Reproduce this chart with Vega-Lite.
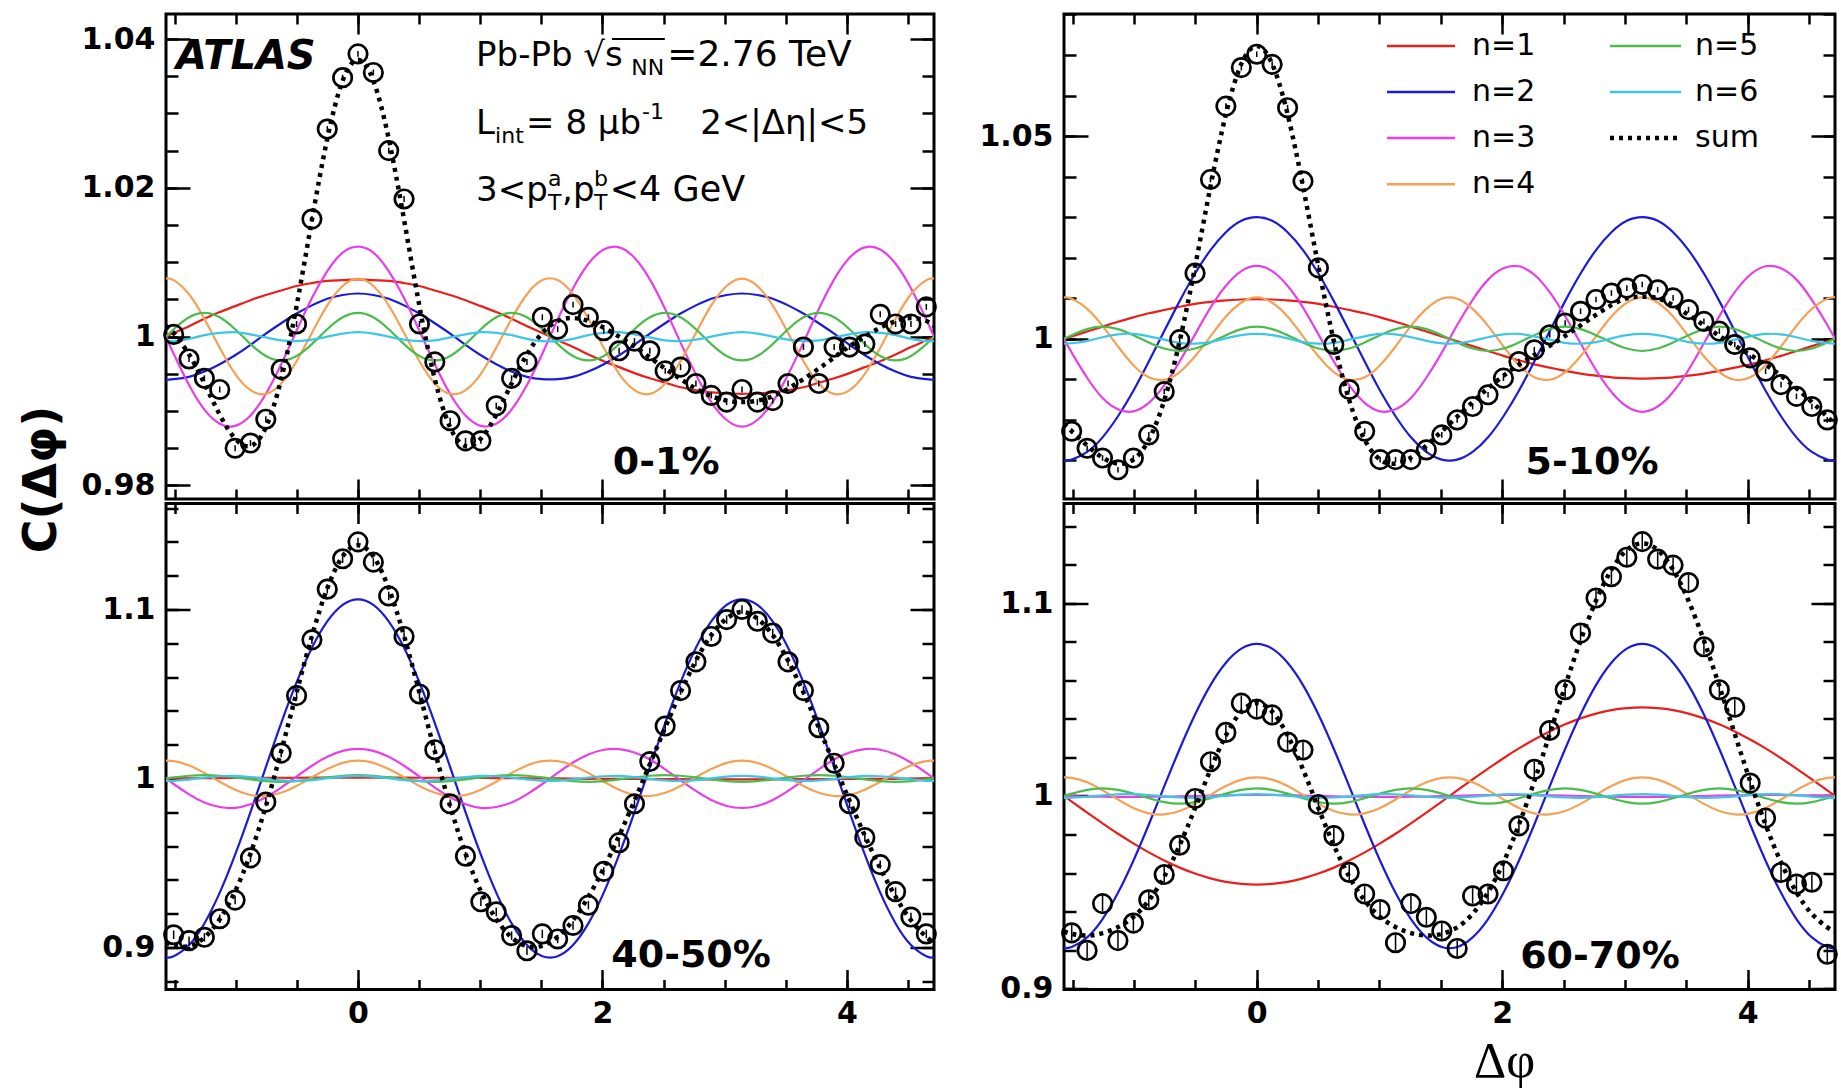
{
"$schema":"https://vega.github.io/schema/vega-lite/v6.json",
"padding":{"left":16,"top":11,"right":4,"bottom":2},
"background":"white",
"columns":2,
"spacing":{"row":4.5,"column":130},
"bounds":"flush",
"datasets":{
"curves":[
{"p":"A","x":-1.5708,"n1":1,"n2":0.9942,"n3":1,"n4":1.0078,"n5":1,"n6":0.9994,"s":1.0014},
{"p":"A","x":-1.508,"n1":1.0005,"n2":0.9943,"n3":0.9977,"n4":1.0076,"n5":1.001,"n6":0.9994,"s":1.0005},
{"p":"A","x":-1.3823,"n1":1.0014,"n2":0.9946,"n3":0.9935,"n4":1.0057,"n5":1.0026,"n6":0.9997,"s":0.9976},
{"p":"A","x":-1.2566,"n1":1.0024,"n2":0.9953,"n3":0.9902,"n4":1.0024,"n5":1.0032,"n6":1.0002,"s":0.9937},
{"p":"A","x":-1.131,"n1":1.0033,"n2":0.9963,"n3":0.9883,"n4":0.9985,"n5":1.0026,"n6":1.0005,"s":0.9895},
{"p":"A","x":-1.0053,"n1":1.0041,"n2":0.9975,"n3":0.988,"n4":0.995,"n5":1.001,"n6":1.0006,"s":0.9863},
{"p":"A","x":-0.8796,"n1":1.0049,"n2":0.9989,"n3":0.9894,"n4":0.9928,"n5":0.999,"n6":1.0003,"s":0.9853},
{"p":"A","x":-0.754,"n1":1.0056,"n2":1.0004,"n3":0.9923,"n4":0.9923,"n5":0.9974,"n6":0.9999,"s":0.9878},
{"p":"A","x":-0.6283,"n1":1.0062,"n2":1.0018,"n3":0.9963,"n4":0.9937,"n5":0.9968,"n6":0.9995,"s":0.9943},
{"p":"A","x":-0.5027,"n1":1.0068,"n2":1.0031,"n3":1.0008,"n4":0.9967,"n5":0.9974,"n6":0.9994,"s":1.0041},
{"p":"A","x":-0.377,"n1":1.0072,"n2":1.0042,"n3":1.0052,"n4":1.0005,"n5":0.999,"n6":0.9996,"s":1.0157},
{"p":"A","x":-0.2513,"n1":1.0075,"n2":1.0051,"n3":1.0088,"n4":1.0042,"n5":1.001,"n6":1,"s":1.0266},
{"p":"A","x":-0.1257,"n1":1.0076,"n2":1.0056,"n3":1.0113,"n4":1.0068,"n5":1.0026,"n6":1.0004,"s":1.0344},
{"p":"A","x":0,"n1":1.0077,"n2":1.0058,"n3":1.0121,"n4":1.0078,"n5":1.0032,"n6":1.0006,"s":1.0372},
{"p":"A","x":0.1257,"n1":1.0076,"n2":1.0056,"n3":1.0113,"n4":1.0068,"n5":1.0026,"n6":1.0004,"s":1.0344},
{"p":"A","x":0.2513,"n1":1.0075,"n2":1.0051,"n3":1.0088,"n4":1.0042,"n5":1.001,"n6":1,"s":1.0266},
{"p":"A","x":0.377,"n1":1.0072,"n2":1.0042,"n3":1.0052,"n4":1.0005,"n5":0.999,"n6":0.9996,"s":1.0157},
{"p":"A","x":0.5027,"n1":1.0068,"n2":1.0031,"n3":1.0008,"n4":0.9967,"n5":0.9974,"n6":0.9994,"s":1.0041},
{"p":"A","x":0.6283,"n1":1.0062,"n2":1.0018,"n3":0.9963,"n4":0.9937,"n5":0.9968,"n6":0.9995,"s":0.9943},
{"p":"A","x":0.754,"n1":1.0056,"n2":1.0004,"n3":0.9923,"n4":0.9923,"n5":0.9974,"n6":0.9999,"s":0.9878},
{"p":"A","x":0.8796,"n1":1.0049,"n2":0.9989,"n3":0.9894,"n4":0.9928,"n5":0.999,"n6":1.0003,"s":0.9853},
{"p":"A","x":1.0053,"n1":1.0041,"n2":0.9975,"n3":0.988,"n4":0.995,"n5":1.001,"n6":1.0006,"s":0.9863},
{"p":"A","x":1.131,"n1":1.0033,"n2":0.9963,"n3":0.9883,"n4":0.9985,"n5":1.0026,"n6":1.0005,"s":0.9895},
{"p":"A","x":1.2566,"n1":1.0024,"n2":0.9953,"n3":0.9902,"n4":1.0024,"n5":1.0032,"n6":1.0002,"s":0.9937},
{"p":"A","x":1.3823,"n1":1.0014,"n2":0.9946,"n3":0.9935,"n4":1.0057,"n5":1.0026,"n6":0.9997,"s":0.9976},
{"p":"A","x":1.508,"n1":1.0005,"n2":0.9943,"n3":0.9977,"n4":1.0076,"n5":1.001,"n6":0.9994,"s":1.0005},
{"p":"A","x":1.6336,"n1":0.9995,"n2":0.9943,"n3":1.0023,"n4":1.0076,"n5":0.999,"n6":0.9994,"s":1.0021},
{"p":"A","x":1.7593,"n1":0.9986,"n2":0.9946,"n3":1.0065,"n4":1.0057,"n5":0.9974,"n6":0.9997,"s":1.0025},
{"p":"A","x":1.885,"n1":0.9976,"n2":0.9953,"n3":1.0098,"n4":1.0024,"n5":0.9968,"n6":1.0002,"s":1.0021},
{"p":"A","x":2.0106,"n1":0.9967,"n2":0.9963,"n3":1.0117,"n4":0.9985,"n5":0.9974,"n6":1.0005,"s":1.0012},
{"p":"A","x":2.1363,"n1":0.9959,"n2":0.9975,"n3":1.012,"n4":0.995,"n5":0.999,"n6":1.0006,"s":1},
{"p":"A","x":2.2619,"n1":0.9951,"n2":0.9989,"n3":1.0106,"n4":0.9928,"n5":1.001,"n6":1.0003,"s":0.9987},
{"p":"A","x":2.3876,"n1":0.9944,"n2":1.0004,"n3":1.0077,"n4":0.9923,"n5":1.0026,"n6":0.9999,"s":0.9972},
{"p":"A","x":2.5133,"n1":0.9938,"n2":1.0018,"n3":1.0037,"n4":0.9937,"n5":1.0032,"n6":0.9995,"s":0.9957},
{"p":"A","x":2.6389,"n1":0.9932,"n2":1.0031,"n3":0.9992,"n4":0.9967,"n5":1.0026,"n6":0.9994,"s":0.9943},
{"p":"A","x":2.7646,"n1":0.9928,"n2":1.0042,"n3":0.9949,"n4":1.0005,"n5":1.001,"n6":0.9996,"s":0.993},
{"p":"A","x":2.8903,"n1":0.9925,"n2":1.0051,"n3":0.9912,"n4":1.0042,"n5":0.999,"n6":1,"s":0.992},
{"p":"A","x":3.0159,"n1":0.9924,"n2":1.0056,"n3":0.9888,"n4":1.0068,"n5":0.9974,"n6":1.0004,"s":0.9914},
{"p":"A","x":3.1416,"n1":0.9923,"n2":1.0058,"n3":0.9879,"n4":1.0078,"n5":0.9968,"n6":1.0006,"s":0.9912},
{"p":"A","x":3.2673,"n1":0.9924,"n2":1.0056,"n3":0.9888,"n4":1.0068,"n5":0.9974,"n6":1.0004,"s":0.9914},
{"p":"A","x":3.3929,"n1":0.9925,"n2":1.0051,"n3":0.9912,"n4":1.0042,"n5":0.999,"n6":1,"s":0.992},
{"p":"A","x":3.5186,"n1":0.9928,"n2":1.0042,"n3":0.9949,"n4":1.0005,"n5":1.001,"n6":0.9996,"s":0.993},
{"p":"A","x":3.6442,"n1":0.9932,"n2":1.0031,"n3":0.9992,"n4":0.9967,"n5":1.0026,"n6":0.9994,"s":0.9943},
{"p":"A","x":3.7699,"n1":0.9938,"n2":1.0018,"n3":1.0037,"n4":0.9937,"n5":1.0032,"n6":0.9995,"s":0.9957},
{"p":"A","x":3.8956,"n1":0.9944,"n2":1.0004,"n3":1.0077,"n4":0.9923,"n5":1.0026,"n6":0.9999,"s":0.9972},
{"p":"A","x":4.0212,"n1":0.9951,"n2":0.9989,"n3":1.0106,"n4":0.9928,"n5":1.001,"n6":1.0003,"s":0.9987},
{"p":"A","x":4.1469,"n1":0.9959,"n2":0.9975,"n3":1.012,"n4":0.995,"n5":0.999,"n6":1.0006,"s":1},
{"p":"A","x":4.2726,"n1":0.9967,"n2":0.9963,"n3":1.0117,"n4":0.9985,"n5":0.9974,"n6":1.0005,"s":1.0012},
{"p":"A","x":4.3982,"n1":0.9976,"n2":0.9953,"n3":1.0098,"n4":1.0024,"n5":0.9968,"n6":1.0002,"s":1.0021},
{"p":"A","x":4.5239,"n1":0.9986,"n2":0.9946,"n3":1.0065,"n4":1.0057,"n5":0.9974,"n6":0.9997,"s":1.0025},
{"p":"A","x":4.6496,"n1":0.9995,"n2":0.9943,"n3":1.0023,"n4":1.0076,"n5":0.999,"n6":0.9994,"s":1.0021},
{"p":"A","x":4.7124,"n1":1,"n2":0.9942,"n3":1,"n4":1.0078,"n5":1,"n6":0.9994,"s":1.0014},
{"p":"B","x":-1.5708,"n1":1,"n2":0.97,"n3":1,"n4":1.0102,"n5":1,"n6":0.9988,"s":0.979},
{"p":"B","x":-1.508,"n1":1.0006,"n2":0.9702,"n3":0.9966,"n4":1.0099,"n5":1.0009,"n6":0.9989,"s":0.9772},
{"p":"B","x":-1.3823,"n1":1.0018,"n2":0.9721,"n3":0.9904,"n4":1.0074,"n5":1.0024,"n6":0.9995,"s":0.9737},
{"p":"B","x":-1.2566,"n1":1.003,"n2":0.9757,"n3":0.9854,"n4":1.0032,"n5":1.003,"n6":1.0004,"s":0.9707},
{"p":"B","x":-1.131,"n1":1.0042,"n2":0.9809,"n3":0.9826,"n4":0.9981,"n5":1.0024,"n6":1.0011,"s":0.9692},
{"p":"B","x":-1.0053,"n1":1.0053,"n2":0.9872,"n3":0.9821,"n4":0.9935,"n5":1.0009,"n6":1.0012,"s":0.9702},
{"p":"B","x":-0.8796,"n1":1.0063,"n2":0.9944,"n3":0.9842,"n4":0.9905,"n5":0.9991,"n6":1.0006,"s":0.9751},
{"p":"B","x":-0.754,"n1":1.0071,"n2":1.0019,"n3":0.9885,"n4":0.9899,"n5":0.9976,"n6":0.9998,"s":0.9848},
{"p":"B","x":-0.6283,"n1":1.0079,"n2":1.0093,"n3":0.9944,"n4":0.9918,"n5":0.997,"n6":0.999,"s":0.9994},
{"p":"B","x":-0.5027,"n1":1.0086,"n2":1.0161,"n3":1.0011,"n4":0.9957,"n5":0.9976,"n6":0.9988,"s":1.0178},
{"p":"B","x":-0.377,"n1":1.0091,"n2":1.0219,"n3":1.0077,"n4":1.0006,"n5":0.9991,"n6":0.9992,"s":1.0376},
{"p":"B","x":-0.2513,"n1":1.0095,"n2":1.0263,"n3":1.0131,"n4":1.0055,"n5":1.0009,"n6":1.0001,"s":1.0554},
{"p":"B","x":-0.1257,"n1":1.0097,"n2":1.0291,"n3":1.0167,"n4":1.0089,"n5":1.0024,"n6":1.0009,"s":1.0678},
{"p":"B","x":0,"n1":1.0098,"n2":1.03,"n3":1.018,"n4":1.0102,"n5":1.003,"n6":1.0012,"s":1.0722},
{"p":"B","x":0.1257,"n1":1.0097,"n2":1.0291,"n3":1.0167,"n4":1.0089,"n5":1.0024,"n6":1.0009,"s":1.0678},
{"p":"B","x":0.2513,"n1":1.0095,"n2":1.0263,"n3":1.0131,"n4":1.0055,"n5":1.0009,"n6":1.0001,"s":1.0554},
{"p":"B","x":0.377,"n1":1.0091,"n2":1.0219,"n3":1.0077,"n4":1.0006,"n5":0.9991,"n6":0.9992,"s":1.0376},
{"p":"B","x":0.5027,"n1":1.0086,"n2":1.0161,"n3":1.0011,"n4":0.9957,"n5":0.9976,"n6":0.9988,"s":1.0178},
{"p":"B","x":0.6283,"n1":1.0079,"n2":1.0093,"n3":0.9944,"n4":0.9918,"n5":0.997,"n6":0.999,"s":0.9994},
{"p":"B","x":0.754,"n1":1.0071,"n2":1.0019,"n3":0.9885,"n4":0.9899,"n5":0.9976,"n6":0.9998,"s":0.9848},
{"p":"B","x":0.8796,"n1":1.0063,"n2":0.9944,"n3":0.9842,"n4":0.9905,"n5":0.9991,"n6":1.0006,"s":0.9751},
{"p":"B","x":1.0053,"n1":1.0053,"n2":0.9872,"n3":0.9821,"n4":0.9935,"n5":1.0009,"n6":1.0012,"s":0.9702},
{"p":"B","x":1.131,"n1":1.0042,"n2":0.9809,"n3":0.9826,"n4":0.9981,"n5":1.0024,"n6":1.0011,"s":0.9692},
{"p":"B","x":1.2566,"n1":1.003,"n2":0.9757,"n3":0.9854,"n4":1.0032,"n5":1.003,"n6":1.0004,"s":0.9707},
{"p":"B","x":1.3823,"n1":1.0018,"n2":0.9721,"n3":0.9904,"n4":1.0074,"n5":1.0024,"n6":0.9995,"s":0.9737},
{"p":"B","x":1.508,"n1":1.0006,"n2":0.9702,"n3":0.9966,"n4":1.0099,"n5":1.0009,"n6":0.9989,"s":0.9772},
{"p":"B","x":1.6336,"n1":0.9994,"n2":0.9702,"n3":1.0034,"n4":1.0099,"n5":0.9991,"n6":0.9989,"s":0.9808},
{"p":"B","x":1.7593,"n1":0.9982,"n2":0.9721,"n3":1.0096,"n4":1.0074,"n5":0.9976,"n6":0.9995,"s":0.9844},
{"p":"B","x":1.885,"n1":0.997,"n2":0.9757,"n3":1.0146,"n4":1.0032,"n5":0.997,"n6":1.0004,"s":0.9878},
{"p":"B","x":2.0106,"n1":0.9958,"n2":0.9809,"n3":1.0174,"n4":0.9981,"n5":0.9976,"n6":1.0011,"s":0.9909},
{"p":"B","x":2.1363,"n1":0.9947,"n2":0.9872,"n3":1.0179,"n4":0.9935,"n5":0.9991,"n6":1.0012,"s":0.9936},
{"p":"B","x":2.2619,"n1":0.9937,"n2":0.9944,"n3":1.0158,"n4":0.9905,"n5":1.0009,"n6":1.0006,"s":0.996},
{"p":"B","x":2.3876,"n1":0.9929,"n2":1.0019,"n3":1.0115,"n4":0.9899,"n5":1.0024,"n6":0.9998,"s":0.9983},
{"p":"B","x":2.5133,"n1":0.9921,"n2":1.0093,"n3":1.0056,"n4":0.9918,"n5":1.003,"n6":0.999,"s":1.0007},
{"p":"B","x":2.6389,"n1":0.9914,"n2":1.0161,"n3":0.9989,"n4":0.9957,"n5":1.0024,"n6":0.9988,"s":1.0033},
{"p":"B","x":2.7646,"n1":0.9909,"n2":1.0219,"n3":0.9923,"n4":1.0006,"n5":1.0009,"n6":0.9992,"s":1.0059},
{"p":"B","x":2.8903,"n1":0.9905,"n2":1.0263,"n3":0.9869,"n4":1.0055,"n5":0.9991,"n6":1.0001,"s":1.0083},
{"p":"B","x":3.0159,"n1":0.9903,"n2":1.0291,"n3":0.9833,"n4":1.0089,"n5":0.9976,"n6":1.0009,"s":1.01},
{"p":"B","x":3.1416,"n1":0.9902,"n2":1.03,"n3":0.982,"n4":1.0102,"n5":0.997,"n6":1.0012,"s":1.0104},
{"p":"B","x":3.2673,"n1":0.9903,"n2":1.0291,"n3":0.9833,"n4":1.0089,"n5":0.9976,"n6":1.0009,"s":1.01},
{"p":"B","x":3.3929,"n1":0.9905,"n2":1.0263,"n3":0.9869,"n4":1.0055,"n5":0.9991,"n6":1.0001,"s":1.0083},
{"p":"B","x":3.5186,"n1":0.9909,"n2":1.0219,"n3":0.9923,"n4":1.0006,"n5":1.0009,"n6":0.9992,"s":1.0059},
{"p":"B","x":3.6442,"n1":0.9914,"n2":1.0161,"n3":0.9989,"n4":0.9957,"n5":1.0024,"n6":0.9988,"s":1.0033},
{"p":"B","x":3.7699,"n1":0.9921,"n2":1.0093,"n3":1.0056,"n4":0.9918,"n5":1.003,"n6":0.999,"s":1.0007},
{"p":"B","x":3.8956,"n1":0.9929,"n2":1.0019,"n3":1.0115,"n4":0.9899,"n5":1.0024,"n6":0.9998,"s":0.9983},
{"p":"B","x":4.0212,"n1":0.9937,"n2":0.9944,"n3":1.0158,"n4":0.9905,"n5":1.0009,"n6":1.0006,"s":0.996},
{"p":"B","x":4.1469,"n1":0.9947,"n2":0.9872,"n3":1.0179,"n4":0.9935,"n5":0.9991,"n6":1.0012,"s":0.9936},
{"p":"B","x":4.2726,"n1":0.9958,"n2":0.9809,"n3":1.0174,"n4":0.9981,"n5":0.9976,"n6":1.0011,"s":0.9909},
{"p":"B","x":4.3982,"n1":0.997,"n2":0.9757,"n3":1.0146,"n4":1.0032,"n5":0.997,"n6":1.0004,"s":0.9878},
{"p":"B","x":4.5239,"n1":0.9982,"n2":0.9721,"n3":1.0096,"n4":1.0074,"n5":0.9976,"n6":0.9995,"s":0.9844},
{"p":"B","x":4.6496,"n1":0.9994,"n2":0.9702,"n3":1.0034,"n4":1.0099,"n5":0.9991,"n6":0.9989,"s":0.9808},
{"p":"B","x":4.7124,"n1":1,"n2":0.97,"n3":1,"n4":1.0102,"n5":1,"n6":0.9988,"s":0.979},
{"p":"C","x":-1.5708,"n1":1,"n2":0.894,"n3":1,"n4":1.0105,"n5":1,"n6":0.9985,"s":0.903},
{"p":"C","x":-1.508,"n1":1,"n2":0.8948,"n3":0.9967,"n4":1.0102,"n5":1.0006,"n6":0.9986,"s":0.901},
{"p":"C","x":-1.3823,"n1":1.0001,"n2":0.9014,"n3":0.9906,"n4":1.0077,"n5":1.0016,"n6":0.9994,"s":0.9008},
{"p":"C","x":-1.2566,"n1":1.0002,"n2":0.9142,"n3":0.9858,"n4":1.0032,"n5":1.002,"n6":1.0005,"s":0.9059},
{"p":"C","x":-1.131,"n1":1.0002,"n2":0.9324,"n3":0.9831,"n4":0.998,"n5":1.0016,"n6":1.0013,"s":0.9167},
{"p":"C","x":-1.0053,"n1":1.0003,"n2":0.9549,"n3":0.9826,"n4":0.9933,"n5":1.0006,"n6":1.0015,"s":0.9332},
{"p":"C","x":-0.8796,"n1":1.0003,"n2":0.9801,"n3":0.9847,"n4":0.9902,"n5":0.9994,"n6":1.0008,"s":0.9555},
{"p":"C","x":-0.754,"n1":1.0004,"n2":1.0067,"n3":0.9889,"n4":0.9896,"n5":0.9984,"n6":0.9997,"s":0.9836},
{"p":"C","x":-0.6283,"n1":1.0004,"n2":1.0328,"n3":0.9946,"n4":0.9915,"n5":0.998,"n6":0.9988,"s":1.0161},
{"p":"C","x":-0.5027,"n1":1.0004,"n2":1.0568,"n3":1.0011,"n4":0.9955,"n5":0.9984,"n6":0.9985,"s":1.0508},
{"p":"C","x":-0.377,"n1":1.0005,"n2":1.0773,"n3":1.0075,"n4":1.0007,"n5":0.9994,"n6":0.999,"s":1.0843},
{"p":"C","x":-0.2513,"n1":1.0005,"n2":1.0929,"n3":1.0128,"n4":1.0056,"n5":1.0006,"n6":1.0001,"s":1.1125},
{"p":"C","x":-0.1257,"n1":1.0005,"n2":1.1027,"n3":1.0163,"n4":1.0092,"n5":1.0016,"n6":1.0011,"s":1.1314},
{"p":"C","x":0,"n1":1.0005,"n2":1.106,"n3":1.0175,"n4":1.0105,"n5":1.002,"n6":1.0015,"s":1.138},
{"p":"C","x":0.1257,"n1":1.0005,"n2":1.1027,"n3":1.0163,"n4":1.0092,"n5":1.0016,"n6":1.0011,"s":1.1314},
{"p":"C","x":0.2513,"n1":1.0005,"n2":1.0929,"n3":1.0128,"n4":1.0056,"n5":1.0006,"n6":1.0001,"s":1.1125},
{"p":"C","x":0.377,"n1":1.0005,"n2":1.0773,"n3":1.0075,"n4":1.0007,"n5":0.9994,"n6":0.999,"s":1.0843},
{"p":"C","x":0.5027,"n1":1.0004,"n2":1.0568,"n3":1.0011,"n4":0.9955,"n5":0.9984,"n6":0.9985,"s":1.0508},
{"p":"C","x":0.6283,"n1":1.0004,"n2":1.0328,"n3":0.9946,"n4":0.9915,"n5":0.998,"n6":0.9988,"s":1.0161},
{"p":"C","x":0.754,"n1":1.0004,"n2":1.0067,"n3":0.9889,"n4":0.9896,"n5":0.9984,"n6":0.9997,"s":0.9836},
{"p":"C","x":0.8796,"n1":1.0003,"n2":0.9801,"n3":0.9847,"n4":0.9902,"n5":0.9994,"n6":1.0008,"s":0.9555},
{"p":"C","x":1.0053,"n1":1.0003,"n2":0.9549,"n3":0.9826,"n4":0.9933,"n5":1.0006,"n6":1.0015,"s":0.9332},
{"p":"C","x":1.131,"n1":1.0002,"n2":0.9324,"n3":0.9831,"n4":0.998,"n5":1.0016,"n6":1.0013,"s":0.9167},
{"p":"C","x":1.2566,"n1":1.0002,"n2":0.9142,"n3":0.9858,"n4":1.0032,"n5":1.002,"n6":1.0005,"s":0.9059},
{"p":"C","x":1.3823,"n1":1.0001,"n2":0.9014,"n3":0.9906,"n4":1.0077,"n5":1.0016,"n6":0.9994,"s":0.9008},
{"p":"C","x":1.508,"n1":1,"n2":0.8948,"n3":0.9967,"n4":1.0102,"n5":1.0006,"n6":0.9986,"s":0.901},
{"p":"C","x":1.6336,"n1":1,"n2":0.8948,"n3":1.0033,"n4":1.0102,"n5":0.9994,"n6":0.9986,"s":0.9063},
{"p":"C","x":1.7593,"n1":0.9999,"n2":0.9014,"n3":1.0094,"n4":1.0077,"n5":0.9984,"n6":0.9994,"s":0.9161},
{"p":"C","x":1.885,"n1":0.9998,"n2":0.9142,"n3":1.0142,"n4":1.0032,"n5":0.998,"n6":1.0005,"s":0.93},
{"p":"C","x":2.0106,"n1":0.9998,"n2":0.9324,"n3":1.017,"n4":0.998,"n5":0.9984,"n6":1.0013,"s":0.9469},
{"p":"C","x":2.1363,"n1":0.9997,"n2":0.9549,"n3":1.0174,"n4":0.9933,"n5":0.9994,"n6":1.0015,"s":0.9661},
{"p":"C","x":2.2619,"n1":0.9997,"n2":0.9801,"n3":1.0153,"n4":0.9902,"n5":1.0006,"n6":1.0008,"s":0.9868},
{"p":"C","x":2.3876,"n1":0.9996,"n2":1.0067,"n3":1.0112,"n4":0.9896,"n5":1.0016,"n6":0.9997,"s":1.0084},
{"p":"C","x":2.5133,"n1":0.9996,"n2":1.0328,"n3":1.0054,"n4":0.9915,"n5":1.002,"n6":0.9988,"s":1.0301},
{"p":"C","x":2.6389,"n1":0.9996,"n2":1.0568,"n3":0.9989,"n4":0.9955,"n5":1.0016,"n6":0.9985,"s":1.0509},
{"p":"C","x":2.7646,"n1":0.9995,"n2":1.0773,"n3":0.9926,"n4":1.0007,"n5":1.0006,"n6":0.999,"s":1.0697},
{"p":"C","x":2.8903,"n1":0.9995,"n2":1.0929,"n3":0.9872,"n4":1.0056,"n5":0.9994,"n6":1.0001,"s":1.0848},
{"p":"C","x":3.0159,"n1":0.9995,"n2":1.1027,"n3":0.9837,"n4":1.0092,"n5":0.9984,"n6":1.0011,"s":1.0946},
{"p":"C","x":3.1416,"n1":0.9995,"n2":1.106,"n3":0.9825,"n4":1.0105,"n5":0.998,"n6":1.0015,"s":1.0985},
{"p":"C","x":3.2673,"n1":0.9995,"n2":1.1027,"n3":0.9837,"n4":1.0092,"n5":0.9984,"n6":1.0011,"s":1.0946},
{"p":"C","x":3.3929,"n1":0.9995,"n2":1.0929,"n3":0.9872,"n4":1.0056,"n5":0.9994,"n6":1.0001,"s":1.0848},
{"p":"C","x":3.5186,"n1":0.9995,"n2":1.0773,"n3":0.9926,"n4":1.0007,"n5":1.0006,"n6":0.999,"s":1.0697},
{"p":"C","x":3.6442,"n1":0.9996,"n2":1.0568,"n3":0.9989,"n4":0.9955,"n5":1.0016,"n6":0.9985,"s":1.0509},
{"p":"C","x":3.7699,"n1":0.9996,"n2":1.0328,"n3":1.0054,"n4":0.9915,"n5":1.002,"n6":0.9988,"s":1.0301},
{"p":"C","x":3.8956,"n1":0.9996,"n2":1.0067,"n3":1.0112,"n4":0.9896,"n5":1.0016,"n6":0.9997,"s":1.0084},
{"p":"C","x":4.0212,"n1":0.9997,"n2":0.9801,"n3":1.0153,"n4":0.9902,"n5":1.0006,"n6":1.0008,"s":0.9868},
{"p":"C","x":4.1469,"n1":0.9997,"n2":0.9549,"n3":1.0174,"n4":0.9933,"n5":0.9994,"n6":1.0015,"s":0.9661},
{"p":"C","x":4.2726,"n1":0.9998,"n2":0.9324,"n3":1.017,"n4":0.998,"n5":0.9984,"n6":1.0013,"s":0.9469},
{"p":"C","x":4.3982,"n1":0.9998,"n2":0.9142,"n3":1.0142,"n4":1.0032,"n5":0.998,"n6":1.0005,"s":0.93},
{"p":"C","x":4.5239,"n1":0.9999,"n2":0.9014,"n3":1.0094,"n4":1.0077,"n5":0.9984,"n6":0.9994,"s":0.9161},
{"p":"C","x":4.6496,"n1":1,"n2":0.8948,"n3":1.0033,"n4":1.0102,"n5":0.9994,"n6":0.9986,"s":0.9063},
{"p":"C","x":4.7124,"n1":1,"n2":0.894,"n3":1,"n4":1.0105,"n5":1,"n6":0.9985,"s":0.903},
{"p":"D","x":-1.5708,"n1":1,"n2":0.921,"n3":1,"n4":1.0097,"n5":1,"n6":0.999,"s":0.9297},
{"p":"D","x":-1.508,"n1":0.9971,"n2":0.9216,"n3":0.9999,"n4":1.0094,"n5":1.0012,"n6":0.9991,"s":0.9284},
{"p":"D","x":-1.3823,"n1":0.9914,"n2":0.9266,"n3":0.9997,"n4":1.0071,"n5":1.0032,"n6":0.9996,"s":0.9275},
{"p":"D","x":-1.2566,"n1":0.9858,"n2":0.9361,"n3":0.9996,"n4":1.003,"n5":1.004,"n6":1.0003,"s":0.9288},
{"p":"D","x":-1.131,"n1":0.9804,"n2":0.9497,"n3":0.9995,"n4":0.9982,"n5":1.0032,"n6":1.0009,"s":0.9319},
{"p":"D","x":-1.0053,"n1":0.9754,"n2":0.9664,"n3":0.9995,"n4":0.9938,"n5":1.0012,"n6":1.001,"s":0.9372},
{"p":"D","x":-0.8796,"n1":0.9707,"n2":0.9852,"n3":0.9996,"n4":0.991,"n5":0.9988,"n6":1.0005,"s":0.9457},
{"p":"D","x":-0.754,"n1":0.9665,"n2":1.005,"n3":0.9997,"n4":0.9904,"n5":0.9968,"n6":0.9998,"s":0.9581},
{"p":"D","x":-0.6283,"n1":0.9628,"n2":1.0244,"n3":0.9998,"n4":0.9922,"n5":0.996,"n6":0.9992,"s":0.9744},
{"p":"D","x":-0.5027,"n1":0.9597,"n2":1.0423,"n3":1,"n4":0.9959,"n5":0.9968,"n6":0.999,"s":0.9937},
{"p":"D","x":-0.377,"n1":0.9572,"n2":1.0576,"n3":1.0002,"n4":1.0006,"n5":0.9988,"n6":0.9994,"s":1.0138},
{"p":"D","x":-0.2513,"n1":0.9554,"n2":1.0692,"n3":1.0004,"n4":1.0052,"n5":1.0012,"n6":1.0001,"s":1.0315},
{"p":"D","x":-0.1257,"n1":0.9544,"n2":1.0765,"n3":1.0005,"n4":1.0085,"n5":1.0032,"n6":1.0007,"s":1.0438},
{"p":"D","x":0,"n1":0.954,"n2":1.079,"n3":1.0005,"n4":1.0097,"n5":1.004,"n6":1.001,"s":1.0482},
{"p":"D","x":0.1257,"n1":0.9544,"n2":1.0765,"n3":1.0005,"n4":1.0085,"n5":1.0032,"n6":1.0007,"s":1.0438},
{"p":"D","x":0.2513,"n1":0.9554,"n2":1.0692,"n3":1.0004,"n4":1.0052,"n5":1.0012,"n6":1.0001,"s":1.0315},
{"p":"D","x":0.377,"n1":0.9572,"n2":1.0576,"n3":1.0002,"n4":1.0006,"n5":0.9988,"n6":0.9994,"s":1.0138},
{"p":"D","x":0.5027,"n1":0.9597,"n2":1.0423,"n3":1,"n4":0.9959,"n5":0.9968,"n6":0.999,"s":0.9937},
{"p":"D","x":0.6283,"n1":0.9628,"n2":1.0244,"n3":0.9998,"n4":0.9922,"n5":0.996,"n6":0.9992,"s":0.9744},
{"p":"D","x":0.754,"n1":0.9665,"n2":1.005,"n3":0.9997,"n4":0.9904,"n5":0.9968,"n6":0.9998,"s":0.9581},
{"p":"D","x":0.8796,"n1":0.9707,"n2":0.9852,"n3":0.9996,"n4":0.991,"n5":0.9988,"n6":1.0005,"s":0.9457},
{"p":"D","x":1.0053,"n1":0.9754,"n2":0.9664,"n3":0.9995,"n4":0.9938,"n5":1.0012,"n6":1.001,"s":0.9372},
{"p":"D","x":1.131,"n1":0.9804,"n2":0.9497,"n3":0.9995,"n4":0.9982,"n5":1.0032,"n6":1.0009,"s":0.9319},
{"p":"D","x":1.2566,"n1":0.9858,"n2":0.9361,"n3":0.9996,"n4":1.003,"n5":1.004,"n6":1.0003,"s":0.9288},
{"p":"D","x":1.3823,"n1":0.9914,"n2":0.9266,"n3":0.9997,"n4":1.0071,"n5":1.0032,"n6":0.9996,"s":0.9275},
{"p":"D","x":1.508,"n1":0.9971,"n2":0.9216,"n3":0.9999,"n4":1.0094,"n5":1.0012,"n6":0.9991,"s":0.9284},
{"p":"D","x":1.6336,"n1":1.0029,"n2":0.9216,"n3":1.0001,"n4":1.0094,"n5":0.9988,"n6":0.9991,"s":0.9318},
{"p":"D","x":1.7593,"n1":1.0086,"n2":0.9266,"n3":1.0003,"n4":1.0071,"n5":0.9968,"n6":0.9996,"s":0.9388},
{"p":"D","x":1.885,"n1":1.0142,"n2":0.9361,"n3":1.0004,"n4":1.003,"n5":0.996,"n6":1.0003,"s":0.95},
{"p":"D","x":2.0106,"n1":1.0196,"n2":0.9497,"n3":1.0005,"n4":0.9982,"n5":0.9968,"n6":1.0009,"s":0.9655},
{"p":"D","x":2.1363,"n1":1.0247,"n2":0.9664,"n3":1.0005,"n4":0.9938,"n5":0.9988,"n6":1.001,"s":0.9851},
{"p":"D","x":2.2619,"n1":1.0293,"n2":0.9852,"n3":1.0004,"n4":0.991,"n5":1.0012,"n6":1.0005,"s":1.0077},
{"p":"D","x":2.3876,"n1":1.0335,"n2":1.005,"n3":1.0003,"n4":0.9904,"n5":1.0032,"n6":0.9998,"s":1.0322},
{"p":"D","x":2.5133,"n1":1.0372,"n2":1.0244,"n3":1.0002,"n4":0.9922,"n5":1.004,"n6":0.9992,"s":1.0571},
{"p":"D","x":2.6389,"n1":1.0403,"n2":1.0423,"n3":1,"n4":0.9959,"n5":1.0032,"n6":0.999,"s":1.0807},
{"p":"D","x":2.7646,"n1":1.0428,"n2":1.0576,"n3":0.9998,"n4":1.0006,"n5":1.0012,"n6":0.9994,"s":1.1014},
{"p":"D","x":2.8903,"n1":1.0446,"n2":1.0692,"n3":0.9996,"n4":1.0052,"n5":0.9988,"n6":1.0001,"s":1.1175},
{"p":"D","x":3.0159,"n1":1.0456,"n2":1.0765,"n3":0.9995,"n4":1.0085,"n5":0.9968,"n6":1.0007,"s":1.1277},
{"p":"D","x":3.1416,"n1":1.046,"n2":1.079,"n3":0.9995,"n4":1.0097,"n5":0.996,"n6":1.001,"s":1.1312},
{"p":"D","x":3.2673,"n1":1.0456,"n2":1.0765,"n3":0.9995,"n4":1.0085,"n5":0.9968,"n6":1.0007,"s":1.1277},
{"p":"D","x":3.3929,"n1":1.0446,"n2":1.0692,"n3":0.9996,"n4":1.0052,"n5":0.9988,"n6":1.0001,"s":1.1175},
{"p":"D","x":3.5186,"n1":1.0428,"n2":1.0576,"n3":0.9998,"n4":1.0006,"n5":1.0012,"n6":0.9994,"s":1.1014},
{"p":"D","x":3.6442,"n1":1.0403,"n2":1.0423,"n3":1,"n4":0.9959,"n5":1.0032,"n6":0.999,"s":1.0807},
{"p":"D","x":3.7699,"n1":1.0372,"n2":1.0244,"n3":1.0002,"n4":0.9922,"n5":1.004,"n6":0.9992,"s":1.0571},
{"p":"D","x":3.8956,"n1":1.0335,"n2":1.005,"n3":1.0003,"n4":0.9904,"n5":1.0032,"n6":0.9998,"s":1.0322},
{"p":"D","x":4.0212,"n1":1.0293,"n2":0.9852,"n3":1.0004,"n4":0.991,"n5":1.0012,"n6":1.0005,"s":1.0077},
{"p":"D","x":4.1469,"n1":1.0247,"n2":0.9664,"n3":1.0005,"n4":0.9938,"n5":0.9988,"n6":1.001,"s":0.9851},
{"p":"D","x":4.2726,"n1":1.0196,"n2":0.9497,"n3":1.0005,"n4":0.9982,"n5":0.9968,"n6":1.0009,"s":0.9655},
{"p":"D","x":4.3982,"n1":1.0142,"n2":0.9361,"n3":1.0004,"n4":1.003,"n5":0.996,"n6":1.0003,"s":0.95},
{"p":"D","x":4.5239,"n1":1.0086,"n2":0.9266,"n3":1.0003,"n4":1.0071,"n5":0.9968,"n6":0.9996,"s":0.9388},
{"p":"D","x":4.6496,"n1":1.0029,"n2":0.9216,"n3":1.0001,"n4":1.0094,"n5":0.9988,"n6":0.9991,"s":0.9318},
{"p":"D","x":4.7124,"n1":1,"n2":0.921,"n3":1,"n4":1.0097,"n5":1,"n6":0.999,"s":0.9297}
],
"pts":[
{"p":"A","x":-1.508,"c":1.0003,"e":0.0004},{"p":"A","x":-1.3823,"c":0.997,"e":0.0004},{"p":"A","x":-1.2566,"c":0.9944,"e":0.0004},{"p":"A","x":-1.131,"c":0.9929,"e":0.0004},{"p":"A","x":-1.0053,"c":0.985,"e":0.0004},{"p":"A","x":-0.8796,"c":0.9857,"e":0.0004},{"p":"A","x":-0.754,"c":0.9889,"e":0.0004},{"p":"A","x":-0.6283,"c":0.9956,"e":0.0004},{"p":"A","x":-0.5027,"c":1.0017,"e":0.0004},{"p":"A","x":-0.377,"c":1.0158,"e":0.0004},
{"p":"A","x":-0.2513,"c":1.0279,"e":0.0004},{"p":"A","x":-0.1257,"c":1.0348,"e":0.0004},{"p":"A","x":0,"c":1.038,"e":0.0004},{"p":"A","x":0.1257,"c":1.0355,"e":0.0004},{"p":"A","x":0.2513,"c":1.025,"e":0.0004},{"p":"A","x":0.377,"c":1.0185,"e":0.0004},{"p":"A","x":0.5027,"c":1.0017,"e":0.0004},{"p":"A","x":0.6283,"c":0.9966,"e":0.0004},{"p":"A","x":0.754,"c":0.9887,"e":0.0004},{"p":"A","x":0.8796,"c":0.986,"e":0.0004},
{"p":"A","x":1.0053,"c":0.986,"e":0.0004},{"p":"A","x":1.131,"c":0.9907,"e":0.0004},{"p":"A","x":1.2566,"c":0.9944,"e":0.0004},{"p":"A","x":1.3823,"c":0.9966,"e":0.0004},{"p":"A","x":1.508,"c":1.0026,"e":0.0004},{"p":"A","x":1.6336,"c":1.001,"e":0.0004},{"p":"A","x":1.7593,"c":1.0043,"e":0.0004},{"p":"A","x":1.885,"c":1.0026,"e":0.0004},{"p":"A","x":2.0106,"c":1.0008,"e":0.0004},{"p":"A","x":2.1363,"c":0.9981,"e":0.0004},
{"p":"A","x":2.2619,"c":0.9994,"e":0.0004},{"p":"A","x":2.3876,"c":0.9981,"e":0.0004},{"p":"A","x":2.5133,"c":0.9954,"e":0.0004},{"p":"A","x":2.6389,"c":0.9959,"e":0.0004},{"p":"A","x":2.7646,"c":0.9937,"e":0.0004},{"p":"A","x":2.8903,"c":0.9921,"e":0.0004},{"p":"A","x":3.0159,"c":0.9912,"e":0.0004},{"p":"A","x":3.1416,"c":0.9929,"e":0.0004},{"p":"A","x":3.2673,"c":0.9912,"e":0.0004},{"p":"A","x":3.3929,"c":0.9914,"e":0.0004},
{"p":"A","x":3.5186,"c":0.9937,"e":0.0004},{"p":"A","x":3.6442,"c":0.9986,"e":0.0004},{"p":"A","x":3.7699,"c":0.9937,"e":0.0004},{"p":"A","x":3.8956,"c":0.9986,"e":0.0004},{"p":"A","x":4.0212,"c":0.9986,"e":0.0004},{"p":"A","x":4.1469,"c":0.999,"e":0.0004},{"p":"A","x":4.2726,"c":1.003,"e":0.0004},{"p":"A","x":4.3982,"c":1.0017,"e":0.0004},{"p":"A","x":4.5239,"c":1.0017,"e":0.0004},{"p":"A","x":4.6496,"c":1.004,"e":0.0004},
{"p":"B","x":-1.508,"c":0.9772,"e":0.0007},{"p":"B","x":-1.3823,"c":0.973,"e":0.0007},{"p":"B","x":-1.2566,"c":0.9706,"e":0.0007},{"p":"B","x":-1.131,"c":0.9677,"e":0.0007},{"p":"B","x":-1.0053,"c":0.9706,"e":0.0007},{"p":"B","x":-0.8796,"c":0.9763,"e":0.0007},{"p":"B","x":-0.754,"c":0.987,"e":0.0007},{"p":"B","x":-0.6283,"c":0.9998,"e":0.0007},{"p":"B","x":-0.5027,"c":1.0162,"e":0.0007},{"p":"B","x":-0.377,"c":1.0393,"e":0.0007},
{"p":"B","x":-0.2513,"c":1.0574,"e":0.0007},{"p":"B","x":-0.1257,"c":1.0669,"e":0.0007},{"p":"B","x":0,"c":1.0702,"e":0.0007},{"p":"B","x":0.1257,"c":1.0677,"e":0.0007},{"p":"B","x":0.2513,"c":1.057,"e":0.0007},{"p":"B","x":0.377,"c":1.0389,"e":0.0007},{"p":"B","x":0.5027,"c":1.0175,"e":0.0007},{"p":"B","x":0.6283,"c":0.9986,"e":0.0007},{"p":"B","x":0.754,"c":0.9875,"e":0.0007},{"p":"B","x":0.8796,"c":0.9772,"e":0.0007},
{"p":"B","x":1.0053,"c":0.9702,"e":0.0007},{"p":"B","x":1.131,"c":0.9702,"e":0.0007},{"p":"B","x":1.2566,"c":0.9702,"e":0.0007},{"p":"B","x":1.3823,"c":0.9726,"e":0.0007},{"p":"B","x":1.508,"c":0.9763,"e":0.0007},{"p":"B","x":1.6336,"c":0.98,"e":0.0007},{"p":"B","x":1.7593,"c":0.9833,"e":0.0007},{"p":"B","x":1.885,"c":0.9862,"e":0.0007},{"p":"B","x":2.0106,"c":0.9903,"e":0.0007},{"p":"B","x":2.1363,"c":0.9944,"e":0.0007},
{"p":"B","x":2.2619,"c":0.9973,"e":0.0007},{"p":"B","x":2.3876,"c":1.001,"e":0.0007},{"p":"B","x":2.5133,"c":1.0039,"e":0.0007},{"p":"B","x":2.6389,"c":1.0068,"e":0.0007},{"p":"B","x":2.7646,"c":1.0097,"e":0.0007},{"p":"B","x":2.8903,"c":1.0113,"e":0.0007},{"p":"B","x":3.0159,"c":1.0125,"e":0.0007},{"p":"B","x":3.1416,"c":1.0134,"e":0.0007},{"p":"B","x":3.2673,"c":1.0121,"e":0.0007},{"p":"B","x":3.3929,"c":1.0101,"e":0.0007},
{"p":"B","x":3.5186,"c":1.0072,"e":0.0007},{"p":"B","x":3.6442,"c":1.0043,"e":0.0007},{"p":"B","x":3.7699,"c":1.0019,"e":0.0007},{"p":"B","x":3.8956,"c":0.9986,"e":0.0007},{"p":"B","x":4.0212,"c":0.9953,"e":0.0007},{"p":"B","x":4.1469,"c":0.992,"e":0.0007},{"p":"B","x":4.2726,"c":0.9887,"e":0.0007},{"p":"B","x":4.3982,"c":0.9858,"e":0.0007},{"p":"B","x":4.5239,"c":0.9833,"e":0.0007},{"p":"B","x":4.6496,"c":0.98,"e":0.0007},
{"p":"C","x":-1.508,"c":0.9075,"e":0.0025},{"p":"C","x":-1.3823,"c":0.904,"e":0.0025},{"p":"C","x":-1.2566,"c":0.906,"e":0.0025},{"p":"C","x":-1.131,"c":0.917,"e":0.0025},{"p":"C","x":-1.0053,"c":0.928,"e":0.0025},{"p":"C","x":-0.8796,"c":0.953,"e":0.0025},{"p":"C","x":-0.754,"c":0.986,"e":0.0025},{"p":"C","x":-0.6283,"c":1.015,"e":0.0025},{"p":"C","x":-0.5027,"c":1.049,"e":0.0025},{"p":"C","x":-0.377,"c":1.082,"e":0.0025},
{"p":"C","x":-0.2513,"c":1.112,"e":0.0025},{"p":"C","x":-0.1257,"c":1.13,"e":0.0025},{"p":"C","x":0,"c":1.14,"e":0.0025},{"p":"C","x":0.1257,"c":1.128,"e":0.0025},{"p":"C","x":0.2513,"c":1.108,"e":0.0025},{"p":"C","x":0.377,"c":1.084,"e":0.0025},{"p":"C","x":0.5027,"c":1.05,"e":0.0025},{"p":"C","x":0.6283,"c":1.017,"e":0.0025},{"p":"C","x":0.754,"c":0.985,"e":0.0025},{"p":"C","x":0.8796,"c":0.954,"e":0.0025},
{"p":"C","x":1.0053,"c":0.927,"e":0.0025},{"p":"C","x":1.131,"c":0.921,"e":0.0025},{"p":"C","x":1.2566,"c":0.907,"e":0.0025},{"p":"C","x":1.3823,"c":0.898,"e":0.0025},{"p":"C","x":1.508,"c":0.908,"e":0.0025},{"p":"C","x":1.6336,"c":0.905,"e":0.0025},{"p":"C","x":1.7593,"c":0.913,"e":0.0025},{"p":"C","x":1.885,"c":0.925,"e":0.0025},{"p":"C","x":2.0106,"c":0.945,"e":0.0025},{"p":"C","x":2.1363,"c":0.962,"e":0.0025},
{"p":"C","x":2.2619,"c":0.985,"e":0.0025},{"p":"C","x":2.3876,"c":1.01,"e":0.0025},{"p":"C","x":2.5133,"c":1.031,"e":0.0025},{"p":"C","x":2.6389,"c":1.052,"e":0.0025},{"p":"C","x":2.7646,"c":1.069,"e":0.0025},{"p":"C","x":2.8903,"c":1.084,"e":0.0025},{"p":"C","x":3.0159,"c":1.094,"e":0.0025},{"p":"C","x":3.1416,"c":1.1,"e":0.0025},{"p":"C","x":3.2673,"c":1.093,"e":0.0025},{"p":"C","x":3.3929,"c":1.086,"e":0.0025},
{"p":"C","x":3.5186,"c":1.069,"e":0.0025},{"p":"C","x":3.6442,"c":1.052,"e":0.0025},{"p":"C","x":3.7699,"c":1.03,"e":0.0025},{"p":"C","x":3.8956,"c":1.009,"e":0.0025},{"p":"C","x":4.0212,"c":0.985,"e":0.0025},{"p":"C","x":4.1469,"c":0.965,"e":0.0025},{"p":"C","x":4.2726,"c":0.949,"e":0.0025},{"p":"C","x":4.3982,"c":0.933,"e":0.0025},{"p":"C","x":4.5239,"c":0.918,"e":0.0025},{"p":"C","x":4.6496,"c":0.908,"e":0.0025},
{"p":"D","x":-1.508,"c":0.9289,"e":0.004},{"p":"D","x":-1.3823,"c":0.9198,"e":0.004},{"p":"D","x":-1.2566,"c":0.9441,"e":0.004},{"p":"D","x":-1.131,"c":0.9249,"e":0.004},{"p":"D","x":-1.0053,"c":0.934,"e":0.004},{"p":"D","x":-0.8796,"c":0.9461,"e":0.004},{"p":"D","x":-0.754,"c":0.9592,"e":0.004},{"p":"D","x":-0.6283,"c":0.9744,"e":0.004},{"p":"D","x":-0.5027,"c":0.9987,"e":0.004},{"p":"D","x":-0.377,"c":1.0178,"e":0.004},
{"p":"D","x":-0.2513,"c":1.033,"e":0.004},{"p":"D","x":-0.1257,"c":1.0482,"e":0.004},{"p":"D","x":0,"c":1.0451,"e":0.004},{"p":"D","x":0.1257,"c":1.0421,"e":0.004},{"p":"D","x":0.2513,"c":1.028,"e":0.004},{"p":"D","x":0.377,"c":1.0239,"e":0.004},{"p":"D","x":0.5027,"c":0.9956,"e":0.004},{"p":"D","x":0.6283,"c":0.9794,"e":0.004},{"p":"D","x":0.754,"c":0.9603,"e":0.004},{"p":"D","x":0.8796,"c":0.9491,"e":0.004},
{"p":"D","x":1.0053,"c":0.941,"e":0.004},{"p":"D","x":1.131,"c":0.9238,"e":0.004},{"p":"D","x":1.2566,"c":0.9441,"e":0.004},{"p":"D","x":1.3823,"c":0.937,"e":0.004},{"p":"D","x":1.508,"c":0.9299,"e":0.004},{"p":"D","x":1.6336,"c":0.9208,"e":0.004},{"p":"D","x":1.7593,"c":0.9481,"e":0.004},{"p":"D","x":1.885,"c":0.9491,"e":0.004},{"p":"D","x":2.0106,"c":0.9612,"e":0.004},{"p":"D","x":2.1363,"c":0.9845,"e":0.004},
{"p":"D","x":2.2619,"c":1.0138,"e":0.004},{"p":"D","x":2.3876,"c":1.034,"e":0.004},{"p":"D","x":2.5133,"c":1.0552,"e":0.004},{"p":"D","x":2.6389,"c":1.0846,"e":0.004},{"p":"D","x":2.7646,"c":1.1028,"e":0.004},{"p":"D","x":2.8903,"c":1.1139,"e":0.004},{"p":"D","x":3.0159,"c":1.124,"e":0.004},{"p":"D","x":3.1416,"c":1.1321,"e":0.004},{"p":"D","x":3.2673,"c":1.123,"e":0.004},{"p":"D","x":3.3929,"c":1.1199,"e":0.004},
{"p":"D","x":3.5186,"c":1.1108,"e":0.004},{"p":"D","x":3.6442,"c":1.0775,"e":0.004},{"p":"D","x":3.7699,"c":1.0552,"e":0.004},{"p":"D","x":3.8956,"c":1.0461,"e":0.004},{"p":"D","x":4.0212,"c":1.0067,"e":0.004},{"p":"D","x":4.1469,"c":0.9885,"e":0.004},{"p":"D","x":4.2726,"c":0.9603,"e":0.004},{"p":"D","x":4.3982,"c":0.9542,"e":0.004},{"p":"D","x":4.5239,"c":0.9552,"e":0.004},{"p":"D","x":4.6496,"c":0.9178,"e":0.004}
]
},
"concat":[
{"width":768,"height":485,
 "resolve":{"axis":{"x":"independent","y":"independent"}},
 "layer":[
  {"data":{"name":"curves"},"transform":[{"filter":"datum.p=='A'"},{"fold":["n1","n2","n3","n4","n5","n6"],"as":["n","v"]}],
   "mark":{"type":"line","strokeWidth":2.2,"interpolate":"natural","clip":true},
   "encoding":{
    "x":{"field":"x","type":"quantitative","scale":{"domain":[-1.5708,4.7124],"nice":false,"zero":false},"axis":{"orient":"bottom","values":[0,2,4],"tickSize":-20,"labels":false,"title":null}},
    "y":{"field":"v","type":"quantitative","scale":{"domain":[0.97818,1.04336],"nice":false,"zero":false},"axis":{"orient":"left","values":[0.98,1,1.02,1.04],"format":"~g","tickSize":-24,"labelPadding":35,"title":"C(Δφ)","titleFont":"DejaVu Sans","titleFontSize":46,"titleFontWeight":"bold","titleAngle":-90,"titleX":-111,"titleY":465,"titleAlign":"center","titleBaseline":"alphabetic","titleColor":"black"}},
    "color":{"field":"n","type":"nominal","scale":{"domain":["n1","n2","n3","n4","n5","n6"],"range":["#e8201c","#1c1cd6","#e640e6","#f3a257","#4cbc4c","#3ec6e6"]},"legend":null}}},
  {"data":{"name":"curves"},"transform":[{"filter":"datum.p=='A'"}],
   "mark":{"type":"line","color":"black","strokeWidth":4.5,"strokeDash":[4,5],"interpolate":"natural","clip":true},
   "encoding":{
    "x":{"field":"x","type":"quantitative","scale":{"domain":[-1.5708,4.7124],"nice":false,"zero":false},"axis":{"orient":"bottom","values":[-1.5,-1,-0.5,0,0.5,1,1.5,2,2.5,3,3.5,4,4.5],"tickSize":-10,"labels":false,"title":null}},
    "y":{"field":"s","type":"quantitative","scale":{"domain":[0.97818,1.04336],"nice":false,"zero":false},"axis":{"orient":"left","values":[0.98,0.985,0.99,0.995,1,1.005,1.01,1.015,1.02,1.025,1.03,1.035,1.04],"tickSize":-12,"labels":false,"title":null}}}},
  {"data":{"name":"pts"},"transform":[{"filter":"datum.p=='A'"}],
   "mark":{"type":"errorbar","color":"black","thickness":1.5},
   "encoding":{
    "x":{"field":"x","type":"quantitative","scale":{"domain":[-1.5708,4.7124],"nice":false,"zero":false},"axis":{"orient":"top","values":[0,2,4],"tickSize":-20,"labels":false,"title":null}},
    "y":{"field":"c","type":"quantitative","scale":{"domain":[0.97818,1.04336],"nice":false,"zero":false},"axis":{"orient":"right","values":[0.98,1,1.02,1.04],"tickSize":-24,"labels":false,"title":null}},
    "yError":{"field":"e"}}},
  {"data":{"name":"pts"},"transform":[{"filter":"datum.p=='A'"}],
   "mark":{"type":"point","shape":"circle","filled":false,"color":"black","strokeWidth":2.7,"size":340,"opacity":1},
   "encoding":{
    "x":{"field":"x","type":"quantitative","scale":{"domain":[-1.5708,4.7124],"nice":false,"zero":false},"axis":{"orient":"top","values":[-1.5,-1,-0.5,0,0.5,1,1.5,2,2.5,3,3.5,4,4.5],"tickSize":-10,"labels":false,"title":null}},
    "y":{"field":"c","type":"quantitative","scale":{"domain":[0.97818,1.04336],"nice":false,"zero":false},"axis":{"orient":"right","values":[0.98,0.985,0.99,0.995,1,1.005,1.01,1.015,1.02,1.025,1.03,1.035,1.04],"tickSize":-12,"labels":false,"title":null}}}},
  {"data":{"values":[{}]},"mark":{"type":"text","text":"ATLAS","font":"DejaVu Sans","fontSize":40,"fontWeight":"bold","fontStyle":"italic","align":"left","baseline":"alphabetic"},
   "encoding":{"x":{"datum":-1.489,"type":"quantitative","axis":null},"y":{"datum":1.036,"type":"quantitative","axis":null}}},
  {"data":{"values":[{}]},"mark":{"type":"text","text":"Pb-Pb √s","font":"DejaVu Sans","fontSize":34,"align":"left","baseline":"alphabetic"},
   "encoding":{"x":{"datum":0.966,"type":"quantitative","axis":null},"y":{"datum":1.0364,"type":"quantitative","axis":null}}},
  {"data":{"values":[{}]},"mark":{"type":"text","text":"NN","font":"DejaVu Sans","fontSize":22,"align":"left","baseline":"alphabetic"},
   "encoding":{"x":{"datum":2.235,"type":"quantitative","axis":null},"y":{"datum":1.03519,"type":"quantitative","axis":null}}},
  {"data":{"values":[{}]},"mark":{"type":"text","text":"=2.76 TeV","font":"DejaVu Sans","fontSize":36,"align":"left","baseline":"alphabetic"},
   "encoding":{"x":{"datum":2.53,"type":"quantitative","axis":null},"y":{"datum":1.0364,"type":"quantitative","axis":null}}},
  {"data":{"values":[{}]},"mark":{"type":"rule","color":"black","strokeWidth":2},
   "encoding":{"x":{"datum":2.0773,"type":"quantitative","axis":null},"x2":{"datum":2.51},"y":{"datum":1.04,"type":"quantitative","axis":null}}},
  {"data":{"values":[{}]},"mark":{"type":"text","text":"L","font":"DejaVu Sans","fontSize":34,"align":"left","baseline":"alphabetic"},
   "encoding":{"x":{"datum":0.966,"type":"quantitative","axis":null},"y":{"datum":1.0273,"type":"quantitative","axis":null}}},
  {"data":{"values":[{}]},"mark":{"type":"text","text":"int","font":"DejaVu Sans","fontSize":22,"align":"left","baseline":"alphabetic"},
   "encoding":{"x":{"datum":1.1215,"type":"quantitative","axis":null},"y":{"datum":1.02604,"type":"quantitative","axis":null}}},
  {"data":{"values":[{}]},"mark":{"type":"text","text":"= 8 μb","font":"DejaVu Sans","fontSize":34,"align":"left","baseline":"alphabetic"},
   "encoding":{"x":{"datum":1.3752,"type":"quantitative","axis":null},"y":{"datum":1.0273,"type":"quantitative","axis":null}}},
  {"data":{"values":[{}]},"mark":{"type":"text","text":"-1","font":"DejaVu Sans","fontSize":22,"align":"left","baseline":"alphabetic"},
   "encoding":{"x":{"datum":2.3244,"type":"quantitative","axis":null},"y":{"datum":1.02927,"type":"quantitative","axis":null}}},
  {"data":{"values":[{}]},"mark":{"type":"text","text":"2<|Δη|<5","font":"DejaVu Sans","fontSize":34,"align":"left","baseline":"alphabetic"},
   "encoding":{"x":{"datum":2.7991,"type":"quantitative","axis":null},"y":{"datum":1.0273,"type":"quantitative","axis":null}}},
  {"data":{"values":[{}]},"mark":{"type":"text","text":"3<p","font":"DejaVu Sans","fontSize":34,"align":"left","baseline":"alphabetic"},
   "encoding":{"x":{"datum":0.966,"type":"quantitative","axis":null},"y":{"datum":1.0182,"type":"quantitative","axis":null}}},
  {"data":{"values":[{}]},"mark":{"type":"text","text":"T","font":"DejaVu Sans","fontSize":22,"align":"left","baseline":"alphabetic"},
   "encoding":{"x":{"datum":1.5552,"type":"quantitative","axis":null},"y":{"datum":1.01703,"type":"quantitative","axis":null}}},
  {"data":{"values":[{}]},"mark":{"type":"text","text":"a","font":"DejaVu Sans","fontSize":22,"align":"left","baseline":"alphabetic"},
   "encoding":{"x":{"datum":1.5552,"type":"quantitative","axis":null},"y":{"datum":1.02026,"type":"quantitative","axis":null}}},
  {"data":{"values":[{}]},"mark":{"type":"text","text":",p","font":"DejaVu Sans","fontSize":34,"align":"left","baseline":"alphabetic"},
   "encoding":{"x":{"datum":1.6698,"type":"quantitative","axis":null},"y":{"datum":1.0182,"type":"quantitative","axis":null}}},
  {"data":{"values":[{}]},"mark":{"type":"text","text":"T","font":"DejaVu Sans","fontSize":22,"align":"left","baseline":"alphabetic"},
   "encoding":{"x":{"datum":1.9316,"type":"quantitative","axis":null},"y":{"datum":1.01703,"type":"quantitative","axis":null}}},
  {"data":{"values":[{}]},"mark":{"type":"text","text":"b","font":"DejaVu Sans","fontSize":22,"align":"left","baseline":"alphabetic"},
   "encoding":{"x":{"datum":1.9316,"type":"quantitative","axis":null},"y":{"datum":1.02026,"type":"quantitative","axis":null}}},
  {"data":{"values":[{}]},"mark":{"type":"text","text":"<4 GeV","font":"DejaVu Sans","fontSize":35,"align":"left","baseline":"alphabetic"},
   "encoding":{"x":{"datum":2.06,"type":"quantitative","axis":null},"y":{"datum":1.0182,"type":"quantitative","axis":null}}},
  {"data":{"values":[{}]},"mark":{"type":"text","text":"0-1%","font":"DejaVu Sans","fontSize":38,"fontWeight":"bold","align":"center","baseline":"alphabetic"},
   "encoding":{"x":{"datum":2.521,"type":"quantitative","axis":null},"y":{"datum":0.98152,"type":"quantitative","axis":null}}}
 ]},
{"width":771,"height":485,
 "resolve":{"axis":{"x":"independent","y":"independent"}},
 "layer":[
  {"data":{"name":"curves"},"transform":[{"filter":"datum.p=='B'"},{"fold":["n1","n2","n3","n4","n5","n6"],"as":["n","v"]}],
   "mark":{"type":"line","strokeWidth":2.2,"interpolate":"natural","clip":true},
   "encoding":{
    "x":{"field":"x","type":"quantitative","scale":{"domain":[-1.5708,4.7124],"nice":false,"zero":false},"axis":{"orient":"bottom","values":[0,2,4],"tickSize":-20,"labels":false,"title":null}},
    "y":{"field":"v","type":"quantitative","scale":{"domain":[0.96049,1.08012],"nice":false,"zero":false},"axis":{"orient":"left","values":[1,1.05],"format":"~g","tickSize":-24,"labelPadding":35,"title":null}},
    "color":{"field":"n","type":"nominal","scale":{"domain":["n1","n2","n3","n4","n5","n6"],"range":["#e8201c","#1c1cd6","#e640e6","#f3a257","#4cbc4c","#3ec6e6"]},"legend":null}}},
  {"data":{"name":"curves"},"transform":[{"filter":"datum.p=='B'"}],
   "mark":{"type":"line","color":"black","strokeWidth":4.5,"strokeDash":[4,5],"interpolate":"natural","clip":true},
   "encoding":{
    "x":{"field":"x","type":"quantitative","scale":{"domain":[-1.5708,4.7124],"nice":false,"zero":false},"axis":{"orient":"bottom","values":[-1.5,-1,-0.5,0,0.5,1,1.5,2,2.5,3,3.5,4,4.5],"tickSize":-10,"labels":false,"title":null}},
    "y":{"field":"s","type":"quantitative","scale":{"domain":[0.96049,1.08012],"nice":false,"zero":false},"axis":{"orient":"left","values":[0.97,0.98,0.99,1,1.01,1.02,1.03,1.04,1.05,1.06,1.07,1.08],"tickSize":-12,"labels":false,"title":null}}}},
  {"data":{"name":"pts"},"transform":[{"filter":"datum.p=='B'"}],
   "mark":{"type":"errorbar","color":"black","thickness":1.5},
   "encoding":{
    "x":{"field":"x","type":"quantitative","scale":{"domain":[-1.5708,4.7124],"nice":false,"zero":false},"axis":{"orient":"top","values":[0,2,4],"tickSize":-20,"labels":false,"title":null}},
    "y":{"field":"c","type":"quantitative","scale":{"domain":[0.96049,1.08012],"nice":false,"zero":false},"axis":{"orient":"right","values":[1,1.05],"tickSize":-24,"labels":false,"title":null}},
    "yError":{"field":"e"}}},
  {"data":{"name":"pts"},"transform":[{"filter":"datum.p=='B'"}],
   "mark":{"type":"point","shape":"circle","filled":false,"color":"black","strokeWidth":2.7,"size":340,"opacity":1},
   "encoding":{
    "x":{"field":"x","type":"quantitative","scale":{"domain":[-1.5708,4.7124],"nice":false,"zero":false},"axis":{"orient":"top","values":[-1.5,-1,-0.5,0,0.5,1,1.5,2,2.5,3,3.5,4,4.5],"tickSize":-10,"labels":false,"title":null}},
    "y":{"field":"c","type":"quantitative","scale":{"domain":[0.96049,1.08012],"nice":false,"zero":false},"axis":{"orient":"right","values":[0.97,0.98,0.99,1,1.01,1.02,1.03,1.04,1.05,1.06,1.07,1.08],"tickSize":-12,"labels":false,"title":null}}}},
  {"data":{"values":[{}]},"mark":{"type":"rule","color":"#e8201c","strokeWidth":2.5},
   "encoding":{"x":{"datum":1.0616,"type":"quantitative","axis":null},"x2":{"datum":1.6158},"y":{"datum":1.07222,"type":"quantitative","axis":null}}},
  {"data":{"values":[{}]},"mark":{"type":"rule","color":"#1c1cd6","strokeWidth":2.5},
   "encoding":{"x":{"datum":1.0616,"type":"quantitative","axis":null},"x2":{"datum":1.6158},"y":{"datum":1.06086,"type":"quantitative","axis":null}}},
  {"data":{"values":[{}]},"mark":{"type":"rule","color":"#e640e6","strokeWidth":2.5},
   "encoding":{"x":{"datum":1.0616,"type":"quantitative","axis":null},"x2":{"datum":1.6158},"y":{"datum":1.04951,"type":"quantitative","axis":null}}},
  {"data":{"values":[{}]},"mark":{"type":"rule","color":"#f3a257","strokeWidth":2.5},
   "encoding":{"x":{"datum":1.0616,"type":"quantitative","axis":null},"x2":{"datum":1.6158},"y":{"datum":1.03815,"type":"quantitative","axis":null}}},
  {"data":{"values":[{}]},"mark":{"type":"rule","color":"#4cbc4c","strokeWidth":2.5},
   "encoding":{"x":{"datum":2.879,"type":"quantitative","axis":null},"x2":{"datum":3.4576},"y":{"datum":1.07222,"type":"quantitative","axis":null}}},
  {"data":{"values":[{}]},"mark":{"type":"rule","color":"#3ec6e6","strokeWidth":2.5},
   "encoding":{"x":{"datum":2.879,"type":"quantitative","axis":null},"x2":{"datum":3.4576},"y":{"datum":1.06086,"type":"quantitative","axis":null}}},
  {"data":{"values":[{}]},"mark":{"type":"rule","color":"black","strokeWidth":4.5,"strokeDash":[4,5]},
   "encoding":{"x":{"datum":2.879,"type":"quantitative","axis":null},"x2":{"datum":3.4576},"y":{"datum":1.04951,"type":"quantitative","axis":null}}},
  {"data":{"values":[{}]},"mark":{"type":"text","text":"n=1","font":"DejaVu Sans","fontSize":30,"align":"left","baseline":"middle"},
   "encoding":{"x":{"datum":1.7543,"type":"quantitative","axis":null},"y":{"datum":1.07222,"type":"quantitative","axis":null}}},
  {"data":{"values":[{}]},"mark":{"type":"text","text":"n=2","font":"DejaVu Sans","fontSize":30,"align":"left","baseline":"middle"},
   "encoding":{"x":{"datum":1.7543,"type":"quantitative","axis":null},"y":{"datum":1.06086,"type":"quantitative","axis":null}}},
  {"data":{"values":[{}]},"mark":{"type":"text","text":"n=3","font":"DejaVu Sans","fontSize":30,"align":"left","baseline":"middle"},
   "encoding":{"x":{"datum":1.7543,"type":"quantitative","axis":null},"y":{"datum":1.04951,"type":"quantitative","axis":null}}},
  {"data":{"values":[{}]},"mark":{"type":"text","text":"n=4","font":"DejaVu Sans","fontSize":30,"align":"left","baseline":"middle"},
   "encoding":{"x":{"datum":1.7543,"type":"quantitative","axis":null},"y":{"datum":1.03815,"type":"quantitative","axis":null}}},
  {"data":{"values":[{}]},"mark":{"type":"text","text":"n=5","font":"DejaVu Sans","fontSize":30,"align":"left","baseline":"middle"},
   "encoding":{"x":{"datum":3.5717,"type":"quantitative","axis":null},"y":{"datum":1.07222,"type":"quantitative","axis":null}}},
  {"data":{"values":[{}]},"mark":{"type":"text","text":"n=6","font":"DejaVu Sans","fontSize":30,"align":"left","baseline":"middle"},
   "encoding":{"x":{"datum":3.5717,"type":"quantitative","axis":null},"y":{"datum":1.06086,"type":"quantitative","axis":null}}},
  {"data":{"values":[{}]},"mark":{"type":"text","text":"sum","font":"DejaVu Sans","fontSize":30,"align":"left","baseline":"middle"},
   "encoding":{"x":{"datum":3.5717,"type":"quantitative","axis":null},"y":{"datum":1.04951,"type":"quantitative","axis":null}}},
  {"data":{"values":[{}]},"mark":{"type":"text","text":"5-10%","font":"DejaVu Sans","fontSize":38,"fontWeight":"bold","align":"center","baseline":"alphabetic"},
   "encoding":{"x":{"datum":2.7325,"type":"quantitative","axis":null},"y":{"datum":0.96654,"type":"quantitative","axis":null}}}
 ]},
{"width":768,"height":486,
 "resolve":{"axis":{"x":"independent","y":"independent"}},
 "layer":[
  {"data":{"name":"curves"},"transform":[{"filter":"datum.p=='C'"},{"fold":["n1","n2","n3","n4","n5","n6"],"as":["n","v"]}],
   "mark":{"type":"line","strokeWidth":2.2,"interpolate":"natural","clip":true},
   "encoding":{
    "x":{"field":"x","type":"quantitative","scale":{"domain":[-1.5708,4.7124],"nice":false,"zero":false},"axis":{"orient":"bottom","values":[0,2,4],"format":"~g","tickSize":-20,"labelPadding":29,"title":null}},
    "y":{"field":"v","type":"quantitative","scale":{"domain":[0.8751,1.1627],"nice":false,"zero":false},"axis":{"orient":"left","values":[0.9,1,1.1],"format":"~g","tickSize":-24,"labelPadding":35,"title":null}},
    "color":{"field":"n","type":"nominal","scale":{"domain":["n1","n2","n3","n4","n5","n6"],"range":["#e8201c","#1c1cd6","#e640e6","#f3a257","#4cbc4c","#3ec6e6"]},"legend":null}}},
  {"data":{"name":"curves"},"transform":[{"filter":"datum.p=='C'"}],
   "mark":{"type":"line","color":"black","strokeWidth":4.5,"strokeDash":[4,5],"interpolate":"natural","clip":true},
   "encoding":{
    "x":{"field":"x","type":"quantitative","scale":{"domain":[-1.5708,4.7124],"nice":false,"zero":false},"axis":{"orient":"bottom","values":[-1.5,-1,-0.5,0,0.5,1,1.5,2,2.5,3,3.5,4,4.5],"tickSize":-10,"labels":false,"title":null}},
    "y":{"field":"s","type":"quantitative","scale":{"domain":[0.8751,1.1627],"nice":false,"zero":false},"axis":{"orient":"left","values":[0.88,0.9,0.92,0.94,0.96,0.98,1,1.02,1.04,1.06,1.08,1.1,1.12,1.14,1.16],"tickSize":-12,"labels":false,"title":null}}}},
  {"data":{"name":"pts"},"transform":[{"filter":"datum.p=='C'"}],
   "mark":{"type":"errorbar","color":"black","thickness":1.5},
   "encoding":{
    "x":{"field":"x","type":"quantitative","scale":{"domain":[-1.5708,4.7124],"nice":false,"zero":false},"axis":{"orient":"top","values":[0,2,4],"tickSize":-20,"labels":false,"title":null}},
    "y":{"field":"c","type":"quantitative","scale":{"domain":[0.8751,1.1627],"nice":false,"zero":false},"axis":{"orient":"right","values":[0.9,1,1.1],"tickSize":-24,"labels":false,"title":null}},
    "yError":{"field":"e"}}},
  {"data":{"name":"pts"},"transform":[{"filter":"datum.p=='C'"}],
   "mark":{"type":"point","shape":"circle","filled":false,"color":"black","strokeWidth":2.7,"size":340,"opacity":1},
   "encoding":{
    "x":{"field":"x","type":"quantitative","scale":{"domain":[-1.5708,4.7124],"nice":false,"zero":false},"axis":{"orient":"top","values":[-1.5,-1,-0.5,0,0.5,1,1.5,2,2.5,3,3.5,4,4.5],"tickSize":-10,"labels":false,"title":null}},
    "y":{"field":"c","type":"quantitative","scale":{"domain":[0.8751,1.1627],"nice":false,"zero":false},"axis":{"orient":"right","values":[0.88,0.9,0.92,0.94,0.96,0.98,1,1.02,1.04,1.06,1.08,1.1,1.12,1.14,1.16],"tickSize":-12,"labels":false,"title":null}}}},
  {"data":{"values":[{}]},"mark":{"type":"text","text":"40-50%","font":"DejaVu Sans","fontSize":38,"fontWeight":"bold","align":"center","baseline":"alphabetic"},
   "encoding":{"x":{"datum":2.725,"type":"quantitative","axis":null},"y":{"datum":0.8882,"type":"quantitative","axis":null}}}
 ]},
{"width":771,"height":486,
 "resolve":{"axis":{"x":"independent","y":"independent"}},
 "layer":[
  {"data":{"name":"curves"},"transform":[{"filter":"datum.p=='D'"},{"fold":["n1","n2","n3","n4","n5","n6"],"as":["n","v"]}],
   "mark":{"type":"line","strokeWidth":2.2,"interpolate":"natural","clip":true},
   "encoding":{
    "x":{"field":"x","type":"quantitative","scale":{"domain":[-1.5708,4.7124],"nice":false,"zero":false},"axis":{"orient":"bottom","values":[0,2,4],"format":"~g","tickSize":-20,"labelPadding":29,"title":"Δφ","titleFont":"Liberation Serif","titleFontSize":50,"titleFontWeight":"normal","titleX":440,"titleY":87,"titleAlign":"center","titleBaseline":"alphabetic","titleColor":"black"}},
    "y":{"field":"v","type":"quantitative","scale":{"domain":[0.8995,1.1519],"nice":false,"zero":false},"axis":{"orient":"left","values":[0.9,1,1.1],"format":"~g","tickSize":-24,"labelPadding":35,"title":null}},
    "color":{"field":"n","type":"nominal","scale":{"domain":["n1","n2","n3","n4","n5","n6"],"range":["#e8201c","#1c1cd6","#e640e6","#f3a257","#4cbc4c","#3ec6e6"]},"legend":null}}},
  {"data":{"name":"curves"},"transform":[{"filter":"datum.p=='D'"}],
   "mark":{"type":"line","color":"black","strokeWidth":4.5,"strokeDash":[4,5],"interpolate":"natural","clip":true},
   "encoding":{
    "x":{"field":"x","type":"quantitative","scale":{"domain":[-1.5708,4.7124],"nice":false,"zero":false},"axis":{"orient":"bottom","values":[-1.5,-1,-0.5,0,0.5,1,1.5,2,2.5,3,3.5,4,4.5],"tickSize":-10,"labels":false,"title":null}},
    "y":{"field":"s","type":"quantitative","scale":{"domain":[0.8995,1.1519],"nice":false,"zero":false},"axis":{"orient":"left","values":[0.9,0.92,0.94,0.96,0.98,1,1.02,1.04,1.06,1.08,1.1,1.12,1.14],"tickSize":-12,"labels":false,"title":null}}}},
  {"data":{"name":"pts"},"transform":[{"filter":"datum.p=='D'"}],
   "mark":{"type":"errorbar","color":"black","thickness":1.5},
   "encoding":{
    "x":{"field":"x","type":"quantitative","scale":{"domain":[-1.5708,4.7124],"nice":false,"zero":false},"axis":{"orient":"top","values":[0,2,4],"tickSize":-20,"labels":false,"title":null}},
    "y":{"field":"c","type":"quantitative","scale":{"domain":[0.8995,1.1519],"nice":false,"zero":false},"axis":{"orient":"right","values":[0.9,1,1.1],"tickSize":-24,"labels":false,"title":null}},
    "yError":{"field":"e"}}},
  {"data":{"name":"pts"},"transform":[{"filter":"datum.p=='D'"}],
   "mark":{"type":"point","shape":"circle","filled":false,"color":"black","strokeWidth":2.7,"size":340,"opacity":1},
   "encoding":{
    "x":{"field":"x","type":"quantitative","scale":{"domain":[-1.5708,4.7124],"nice":false,"zero":false},"axis":{"orient":"top","values":[-1.5,-1,-0.5,0,0.5,1,1.5,2,2.5,3,3.5,4,4.5],"tickSize":-10,"labels":false,"title":null}},
    "y":{"field":"c","type":"quantitative","scale":{"domain":[0.8995,1.1519],"nice":false,"zero":false},"axis":{"orient":"right","values":[0.9,0.92,0.94,0.96,0.98,1,1.02,1.04,1.06,1.08,1.1,1.12,1.14],"tickSize":-12,"labels":false,"title":null}}}},
  {"data":{"values":[{}]},"mark":{"type":"text","text":"60-70%","font":"DejaVu Sans","fontSize":38,"fontWeight":"bold","align":"center","baseline":"alphabetic"},
   "encoding":{"x":{"datum":2.797,"type":"quantitative","axis":null},"y":{"datum":0.9109,"type":"quantitative","axis":null}}}
 ]}
],
"config":{
 "view":{"stroke":"black","strokeWidth":3},
 "axis":{"domain":false,"grid":false,"tickColor":"black","tickWidth":2.5,"labelFont":"DejaVu Sans","labelFontSize":30,"labelFontWeight":"bold","labelColor":"black","labelOverlap":false,"labelFlush":false,"labelBound":false},
 "text":{"font":"DejaVu Sans","color":"black"}
}
}
